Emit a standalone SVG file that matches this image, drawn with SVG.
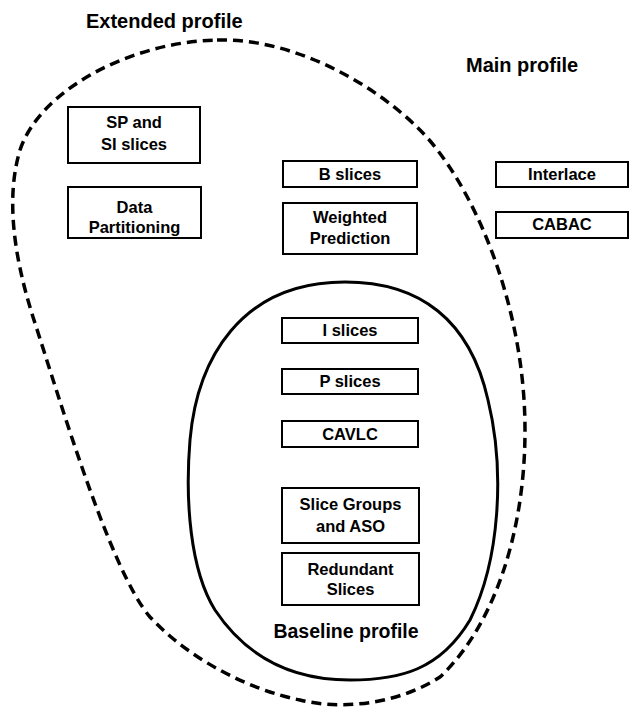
<svg xmlns="http://www.w3.org/2000/svg" width="630" height="707" viewBox="0 0 630 707">
<style>
  .box { fill: #fff; stroke: #000; stroke-width: 2; }
  .t { font-family: "Liberation Sans", Arial, sans-serif; font-weight: bold; font-size: 16.5px; fill: #000; text-anchor: middle; }
  .title { font-family: "Liberation Sans", Arial, sans-serif; font-weight: bold; font-size: 20px; fill: #000; }
  .ext { fill: none; stroke: #000; stroke-width: 3.5; stroke-dasharray: 10 6; }
  .base { fill: none; stroke: #000; stroke-width: 3; }
</style>
<rect width="630" height="707" fill="#fff"/>
<g id="regions">
  <path id="extended-outline" class="ext" d="M 217 40 C 290 38, 370 80, 420 130 C 470 180, 525 300, 525 430 C 525 540, 490 630, 440 677 C 405 700, 350 712, 300 700 C 250 690, 190 660, 150 617 C 110 570, 60 400, 33 317 C 15 260, 5 200, 20 150 C 40 90, 130 42, 217 40 Z"/>
  <path id="baseline-outline" class="base" d="M 345 282 C 420 282, 470 320, 488 400 C 505 470, 500 560, 470 620 C 440 670, 400 680, 350 680 C 290 680, 245 655, 215 610 C 190 570, 185 500, 190 440 C 197 360, 240 282, 345 282 Z"/>
</g>
<g id="labels">
  <text id="extended-label" class="title" x="86" y="28">Extended profile</text>
  <text id="main-label" class="title" x="466" y="72">Main profile</text>
  <text id="baseline-label" class="title" x="346" y="638" text-anchor="middle" style="font-size:19.5px">Baseline profile</text>
</g>
<g id="sp-si-slices">
  <rect class="box" x="68" y="107" width="132" height="56"/>
  <text class="t" x="134" y="128">SP and</text>
  <text class="t" x="134" y="150">SI slices</text>
</g>
<g id="data-partitioning">
  <rect class="box" x="68" y="187" width="133" height="51"/>
  <text class="t" x="134.5" y="213">Data</text>
  <text class="t" x="134.5" y="233">Partitioning</text>
</g>
<g id="b-slices">
  <rect class="box" x="283" y="161" width="134" height="26"/>
  <text class="t" x="350" y="180">B slices</text>
</g>
<g id="weighted-prediction">
  <rect class="box" x="283" y="203" width="134" height="51"/>
  <text class="t" x="350" y="223">Weighted</text>
  <text class="t" x="350" y="244">Prediction</text>
</g>
<g id="interlace">
  <rect class="box" x="496" y="162" width="132" height="25"/>
  <text class="t" x="562" y="180">Interlace</text>
</g>
<g id="cabac">
  <rect class="box" x="496" y="212" width="132" height="26"/>
  <text class="t" x="562" y="230">CABAC</text>
</g>
<g id="i-slices">
  <rect class="box" x="282" y="318" width="136" height="25"/>
  <text class="t" x="350" y="336">I slices</text>
</g>
<g id="p-slices">
  <rect class="box" x="282" y="369" width="136" height="25"/>
  <text class="t" x="350" y="387">P slices</text>
</g>
<g id="cavlc">
  <rect class="box" x="282" y="421" width="136" height="26"/>
  <text class="t" x="350" y="440">CAVLC</text>
</g>
<g id="slice-groups-aso">
  <rect class="box" x="282" y="488" width="137" height="55"/>
  <text class="t" x="350.5" y="510">Slice Groups</text>
  <text class="t" x="350.5" y="532">and ASO</text>
</g>
<g id="redundant-slices">
  <rect class="box" x="282" y="553" width="137" height="52"/>
  <text class="t" x="350.5" y="575">Redundant</text>
  <text class="t" x="350.5" y="595">Slices</text>
</g>
<g id="connectors"></g>
</svg>
